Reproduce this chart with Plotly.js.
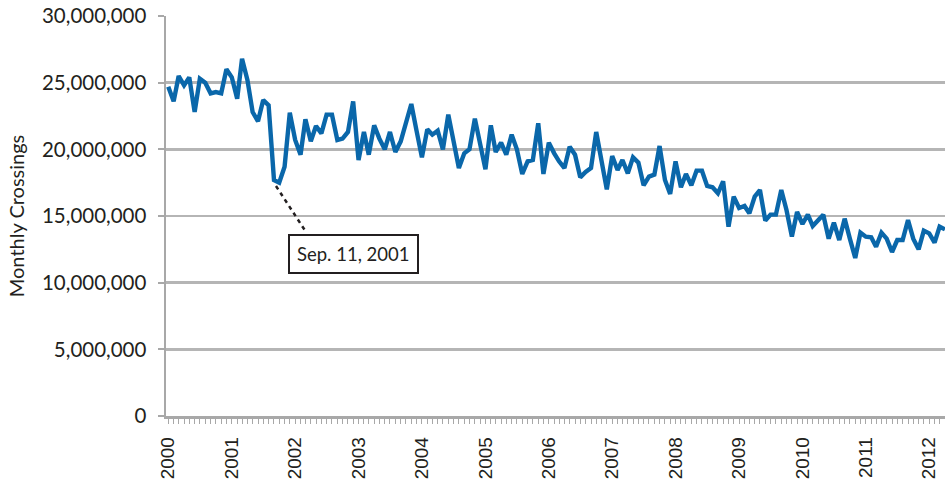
<!DOCTYPE html>
<html>
<head>
<meta charset="utf-8">
<script src="https://cdn.plot.ly/plotly-3.0.1.min.js"></script>
<style>
  html, body { margin: 0; padding: 0; background: #ffffff; }
  #chart { width: 945px; height: 489px; }
</style>
</head>
<body>
<div id="chart"></div>
<script>
// ---- Data (monthly crossings, millions), Jan 2000 onward ----
const startYear = 2000;
const startMonth = 1;
const crossingsMillions = [
  24.7, 23.6, 25.5, 24.8, 25.4, 22.8, 25.3, 25.0, 24.2, 24.3, 24.2, 26.0,
  25.4, 23.8, 26.8, 25.2, 22.8, 22.1, 23.7, 23.3, 17.7, 17.5, 18.7, 22.75,
  20.7, 19.6, 22.25, 20.6, 21.75, 21.2, 22.6, 22.6, 20.7, 20.8, 21.3, 23.6,
  19.2, 21.3, 19.6, 21.8, 20.8, 20.0, 21.3, 19.8, 20.6, 22.0, 23.4, 21.4,
  19.4, 21.5, 21.1, 21.4, 20.0, 22.6, 20.4, 18.6, 19.7, 20.0, 22.3, 20.4,
  18.5, 21.8, 19.8, 20.5, 19.6, 21.1, 20.0, 18.15, 19.1, 19.2, 21.95, 18.15,
  20.5, 19.7, 19.1, 18.6, 20.2, 19.6, 17.9, 18.3, 18.6, 21.3, 19.2, 17.0,
  19.5, 18.45, 19.2, 18.2, 19.4, 19.0, 17.3, 17.95, 18.1, 20.25, 17.7, 16.65,
  19.1, 17.15, 18.15, 17.3, 18.4, 18.4, 17.25, 17.15, 16.7, 17.6, 14.2, 16.45,
  15.6, 15.75, 15.2, 16.45, 16.95, 14.65, 15.1, 15.1, 16.95, 15.45, 13.45, 15.3,
  14.4, 15.1, 14.25, 14.7, 15.1, 13.3, 14.5, 13.2, 14.8, 13.3, 11.85, 13.75,
  13.45, 13.4, 12.7, 13.75, 13.3, 12.3, 13.2, 13.2, 14.7, 13.3, 12.5, 13.9,
  13.7, 13.0, 14.2, 14.0
];
const yearTicks = [2000, 2001, 2002, 2003, 2004, 2005, 2006, 2007, 2008, 2009, 2010, 2011, 2012];
const yTickValues = [0, 5000000, 10000000, 15000000, 20000000, 25000000, 30000000];
const eventLabel = "Sep. 11, 2001";
const eventMonth = "2001-09";
const yTitle = "Monthly Crossings";

// ---- Build series ----
function monthDate(i) {
  const total = (startMonth - 1) + i;
  const y = startYear + Math.floor(total / 12);
  const m = (total % 12) + 1;
  return y + "-" + String(m).padStart(2, "0") + "-01";
}
const months = crossingsMillions.map((_, i) => monthDate(i));
const crossings = crossingsMillions.map(v => v * 1e6);
const eventIdx = months.indexOf(eventMonth + "-01");

const textColor = "#231f20";
const gridColor = "#b5b5b5";
const axisColor = "#a8a8a8";
const sansA = "Lato, Open Sans, sans-serif";

const trace = {
  type: "scatter",
  mode: "lines",
  x: months,
  y: crossings,
  line: { color: "#0a67aa", width: 4.4 },
  hoverinfo: "x+y"
};

const layout = {
  width: 945,
  height: 489,
  margin: { l: 166, r: 0, t: 16, b: 73 },
  paper_bgcolor: "#ffffff",
  plot_bgcolor: "#ffffff",
  showlegend: false,
  xaxis: {
    type: "date",
    range: ["1999-12-19", "2012-04-01"],
    tickmode: "array",
    tickvals: yearTicks.map(y => y + "-01-01"),
    ticktext: yearTicks.map(String),
    tickangle: -90,
    ticks: "outside",
    ticklen: 5,
    tickwidth: 1,
    tickcolor: axisColor,
    minor: { dtick: "M1", tick0: "2000-01-01", ticks: "outside", ticklen: 5, tickwidth: 1, tickcolor: axisColor, showgrid: false },
    showgrid: false,
    zeroline: false,
    showline: true,
    linecolor: axisColor,
    linewidth: 2.5,
    tickfont: { family: "Liberation Sans, Arial, sans-serif", size: 19, color: textColor },
    ticklabelstandoff: 6
  },
  yaxis: {
    range: [0, 30000000],
    tickmode: "array",
    tickvals: yTickValues,
    tickformat: ",d",
    ticks: "outside",
    ticklen: 6,
    tickwidth: 2,
    tickcolor: axisColor,
    showgrid: true,
    gridcolor: gridColor,
    gridwidth: 2.5,
    zeroline: false,
    showline: true,
    linecolor: axisColor,
    linewidth: 2.5,
    tickfont: { family: sansA, size: 20.5, color: textColor },
    ticklabelstandoff: 7,
    title: { text: yTitle, font: { family: sansA, size: 20, color: textColor }, standoff: 12 }
  },
  shapes: [
    {
      type: "line",
      xref: "x", yref: "y",
      xsizemode: "pixel", ysizemode: "pixel",
      xanchor: months[eventIdx], yanchor: crossings[eventIdx],
      x0: 2, y0: -6, x1: 32, y1: -52,
      line: { color: "#231f20", width: 2.5, dash: "4px,4px" }
    }
  ],
  annotations: [
    {
      xref: "x", yref: "y",
      x: months[eventIdx], y: crossings[eventIdx],
      xanchor: "center", yanchor: "middle",
      xshift: 80, yshift: -74,
      text: eventLabel,
      showarrow: false,
      font: { family: sansA, size: 18.5, color: textColor },
      bgcolor: "#ffffff",
      bordercolor: "#231f20",
      borderwidth: 2,
      borderpad: 7
    }
  ]
};

Plotly.newPlot("chart", [trace], layout, { displayModeBar: false, staticPlot: true });
</script>
</body>
</html>
